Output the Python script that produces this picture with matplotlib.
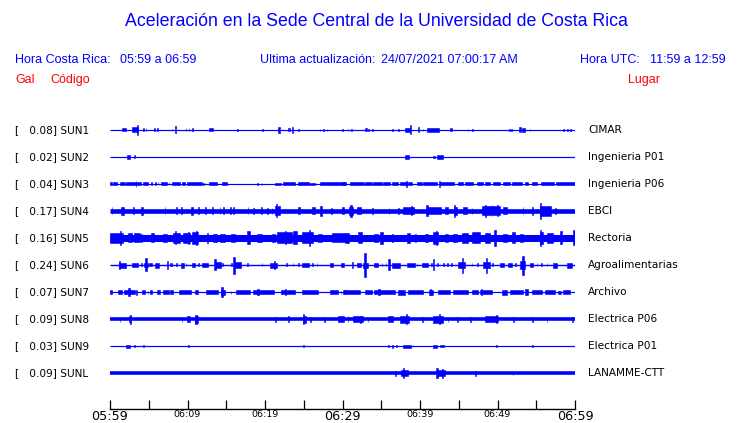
import matplotlib
matplotlib.use("Agg")
import matplotlib.pyplot as plt

# estaciones, valor maximo (Gal) y lugar
codes = ["SUN1", "SUN2", "SUN3", "SUN4", "SUN5", "SUN6", "SUN7", "SUN8", "SUN9", "SUNL"]
peak_gal = [0.08, 0.02, 0.04, 0.17, 0.16, 0.24, 0.07, 0.09, 0.03, 0.09]
places = ["CIMAR", "Ingenieria P01", "Ingenieria P06", "EBCI", "Rectoria",
          "Agroalimentarias", "Archivo", "Electrica P06", "Electrica P01", "LANAMME-CTT"]

# nivel de ruido de fondo de cada traza (media amplitud)
noise = [0.6, 0.6, 0.6, 2.3, 3.5, 0.7, 0.6, 1.8, 0.6, 1.8]

ev_sun1 = [(1.8, 1.5, 0.4), (3.2, 2.5, 0.8), (3.55, 5, 0.15), (4.3, 1.5, 0.1), (4.65, 1.5, 0.1),
           (5.7, 1.5, 0.1), (6.1, 1.5, 0.1), (8.0, 1, 0.1), (8.5, 3.5, 0.15), (9.8, 1.5, 0.1),
           (10.2, 1.5, 0.1), (10.6, 1.5, 0.1), (13.0, 1.5, 0.5), (16.5, 1, 0.1), (19.7, 0.8, 0.1),
           (21.8, 3, 0.15), (23.1, 1.5, 0.3), (23.5, 3, 0.15), (24.3, 1.2, 0.1), (27.1, 1, 0.1),
           (27.5, 1, 0.1), (28.0, 1.2, 0.1), (30.0, 1.2, 0.1), (30.7, 1.2, 0.1), (31.2, 1.2, 0.1),
           (33.0, 1.5, 0.2), (33.4, 1.2, 0.1), (33.9, 1.2, 0.1), (36.5, 0.8, 0.1), (37.2, 0.8, 0.1),
           (38.4, 2, 0.6), (38.8, 4.5, 0.15), (39.8, 2.5, 0.1), (40.4, 1.2, 0.1), (41.7, 2, 1.5),
           (44.0, 1.5, 0.2), (46.2, 0.8, 0.1), (46.8, 1.2, 0.1), (51.5, 1.2, 0.1), (51.8, 1.2, 0.1),
           (52.9, 2.5, 0.15), (53.4, 2, 0.4), (54.2, 1.2, 0.1), (58.5, 1, 0.1), (59.0, 1, 0.1),
           (59.4, 1.2, 0.1)]
ev_sun2 = [(2.4, 2, 0.3), (3.2, 1.5, 0.1), (38.3, 2, 0.5), (41.8, 1.2, 0.15), (42.6, 2, 0.8)]
ev_sun3 = [(0.1, 1.5, 0.3), (0.6, 1.5, 0.5), (1.6, 1.5, 0.6), (3.0, 1.5, 1.9), (3.35, 3, 0.1),
           (4.6, 1.5, 0.6), (5.4, 1.5, 0.1), (5.9, 1.5, 0.1), (6.2, 1.5, 0.1), (7.0, 1.5, 0.8),
           (7.6, 1.5, 0.1), (8.5, 1.5, 1.0), (9.5, 1.5, 0.4), (10.9, 1.5, 1.9), (12.1, 1.2, 0.1),
           (13.3, 1.5, 1.0), (14.8, 1.5, 0.6), (19.0, 1, 0.1), (19.6, 1.2, 0.1), (21.7, 1.2, 0.8),
           (23.1, 1.5, 1.5), (25.0, 1.5, 1.4), (26.1, 1.2, 0.6), (28.7, 1.5, 3.2), (30.2, 1.5, 0.5),
           (31.9, 1.5, 1.8), (33.4, 1.5, 0.9), (34.5, 1.5, 1.2), (35.7, 1.5, 0.9), (36.8, 1.5, 0.8),
           (37.9, 1.5, 0.9), (38.3, 3, 0.1), (38.7, 1.5, 0.5), (39.9, 1.5, 0.6), (41.3, 1.5, 1.8),
           (42.5, 3, 0.15), (43.5, 1.5, 1.9), (45.2, 1.5, 0.6), (46.3, 1.5, 1.0), (47.7, 1.5, 0.8),
           (48.7, 1.5, 0.6), (49.9, 1.5, 0.9), (51.2, 1.5, 0.9), (52.5, 1.5, 1.3), (53.7, 1.5, 0.4),
           (54.8, 1.5, 0.6), (56.4, 1.5, 1.7), (58.8, 1.5, 2.4)]
ev_sun4 = [(0.26, 3.5, 0.1), (1.6, 4, 0.4), (3.0, 3.5, 0.1), (4.1, 4, 0.2), (7.1, 3.5, 0.1),
           (8.6, 3.5, 0.1), (9.2, 3.5, 0.1), (10.6, 4, 0.2), (11.4, 3.5, 0.1), (12.3, 3.5, 0.1),
           (13.2, 3.5, 0.1), (14.2, 3.5, 0.1), (14.6, 3.5, 0.1), (15.5, 3.5, 0.1), (15.9, 3.5, 0.1),
           (17.8, 3.5, 0.1), (18.5, 3.2, 0.1), (19.5, 3.5, 0.1), (20.3, 3.2, 0.1), (20.9, 3.2, 0.1),
           (21.6, 4.5, 0.6), (21.5, 6.5, 0.15), (24.4, 3.5, 0.3), (26.3, 3.5, 0.4), (27.2, 5, 0.3),
           (28.6, 3.2, 0.1), (30.1, 3.5, 0.3), (31.1, 4, 0.5), (31.1, 6, 0.15), (32.1, 3.5, 0.5),
           (33.9, 3.2, 0.1), (36.0, 3.2, 0.1), (37.2, 3.2, 0.1), (38.5, 3.5, 1.4), (38.9, 4.5, 0.1),
           (41.8, 3.5, 1.7), (40.9, 5.5, 0.15), (43.4, 3.5, 0.4), (44.6, 4, 0.3), (44.5, 6, 0.15),
           (45.8, 3.5, 0.5), (46.7, 3.2, 0.1), (49.2, 4.5, 2.3), (48.5, 6, 0.1), (49.3, 5.5, 0.1),
           (50.0, 5.5, 0.1), (51.0, 3.5, 0.5), (53.3, 3.5, 0.1), (54.5, 4, 0.1), (56.2, 5, 1.4),
           (55.6, 8, 0.15), (57.5, 3.2, 0.1)]
ev_sun5 = [(0.8, 5, 1.7), (1.4, 7, 0.15), (2.6, 4.5, 0.5), (3.5, 4.5, 0.8), (4.1, 4, 0.1),
           (5.5, 4.5, 0.3), (7.1, 4, 0.6), (8.6, 5, 0.9), (8.5, 6.5, 0.15), (9.9, 5, 0.9),
           (10.1, 6, 0.15), (11.0, 6, 0.8), (11.2, 7, 0.15), (12.6, 5, 0.2), (13.6, 4, 0.5),
           (14.5, 4, 0.6), (15.9, 4, 0.5), (17.9, 6.5, 0.4), (19.3, 4, 0.6), (21.1, 4, 0.4),
           (22.5, 5.5, 1.9), (22.6, 6.5, 0.15), (23.9, 6.5, 0.5), (25.5, 5.5, 1.4), (25.7, 8, 0.15),
           (27.1, 4, 0.5), (29.5, 4.5, 1.7), (30.6, 5, 0.6), (32.3, 5.5, 0.5), (34.3, 4, 0.6),
           (35.0, 6, 0.4), (36.4, 4, 0.15), (38.5, 5, 0.4), (39.4, 4, 0.1), (40.8, 4, 0.4),
           (42.0, 6, 0.6), (42.1, 7, 0.15), (43.4, 4, 0.3), (44.5, 4, 0.5), (45.8, 5, 0.8),
           (47.2, 5.5, 1.0), (48.7, 5, 0.6), (49.7, 8, 0.2), (51.0, 4, 0.5), (52.1, 5.5, 0.4),
           (53.1, 4, 0.4), (55.7, 6, 0.4), (55.6, 8, 0.15), (56.8, 5, 0.8), (58.2, 6.5, 0.3),
           (59.9, 7.5, 0.2)]
ev_sun6 = [(1.6, 2.5, 0.9), (1.2, 4, 0.15), (3.2, 2, 0.8), (4.1, 1.5, 0.1), (4.6, 2, 0.5),
           (4.65, 6.5, 0.15), (5.2, 1.5, 0.4), (6.1, 2.5, 0.5), (7.4, 4, 0.2), (7.9, 1.5, 0.3),
           (8.6, 1.5, 0.1), (9.4, 2.5, 0.4), (9.8, 1.5, 0.1), (10.8, 2, 0.4), (11.4, 1.5, 0.1),
           (12.3, 2, 0.8), (13.9, 3, 0.8), (13.55, 5.5, 0.15), (14.5, 1.5, 0.1), (15.7, 1.5, 0.1),
           (16.5, 3, 0.9), (16.0, 8.5, 0.15), (17.7, 1.5, 0.1), (19.6, 1.5, 0.1), (21.1, 2.5, 0.9),
           (21.2, 4, 0.15), (22.8, 1.5, 0.1), (23.6, 1.5, 0.1), (24.3, 1.5, 0.1), (25.2, 2, 0.9),
           (26.1, 1.5, 0.1), (26.7, 1.5, 0.1), (28.6, 2, 0.3), (30.0, 2, 0.5), (31.3, 3, 0.2),
           (32.1, 2, 0.5), (33.0, 2.5, 0.6), (32.9, 12, 0.15), (34.3, 2, 0.6), (35.1, 1.5, 0.1),
           (35.6, 1.5, 0.1), (36.0, 5.5, 0.15), (36.9, 2.5, 1.0), (38.8, 2, 1.0), (39.6, 1.5, 0.1),
           (40.6, 2, 0.8), (41.5, 1.5, 0.1), (41.7, 5.5, 0.15), (42.3, 1.5, 0.1), (43.0, 1.5, 0.1),
           (43.5, 1.5, 0.1), (44.1, 1.5, 0.1), (45.3, 3, 0.9), (45.5, 7.5, 0.15), (46.7, 1.5, 0.1),
           (47.4, 1.5, 0.1), (48.6, 3, 0.9), (48.6, 7.5, 0.15), (49.4, 1.5, 0.1), (50.6, 2, 0.6),
           (51.6, 2, 0.5), (52.3, 1.5, 0.1), (53.2, 4, 0.6), (53.3, 9.5, 0.15), (54.4, 2, 0.4),
           (55.1, 1.5, 0.1), (55.7, 1.5, 0.1), (56.4, 1.5, 0.1), (57.4, 2.5, 0.5), (59.3, 2.5, 0.6)]
ev_sun7 = [(0.1, 2, 0.3), (1.3, 2, 0.5), (2.5, 2, 1.4), (2.45, 4, 0.15), (3.4, 2.5, 0.2),
           (4.3, 2, 0.4), (4.9, 1.5, 0.1), (5.3, 2, 0.3), (6.3, 2, 0.4), (7.2, 2, 0.8),
           (7.9, 2, 0.4), (9.7, 2, 1.5), (11.2, 2, 0.4), (13.2, 2, 1.5), (14.6, 2.5, 0.5),
           (14.45, 5, 0.15), (15.6, 1.5, 0.1), (17.2, 2, 1.8), (19.8, 2, 2.6), (19.1, 3, 0.15),
           (23.0, 2, 1.8), (22.6, 3, 0.15), (25.8, 2, 2.1), (28.9, 2, 1.0), (29.8, 1.5, 0.1),
           (30.2, 2, 0.3), (31.2, 2, 2.1), (33.4, 2, 0.9), (35.4, 2, 2.8), (34.7, 3, 0.15),
           (37.6, 2.5, 0.9), (39.4, 2, 1.9), (41.4, 2.5, 0.6), (41.4, 3, 0.15), (43.1, 2, 1.5),
           (45.2, 2, 1.9), (47.1, 2, 0.8), (48.5, 2, 1.5), (47.9, 3, 0.15), (50.9, 2.5, 0.6),
           (52.5, 2, 1.7), (53.7, 3, 0.4), (55.1, 2, 1.3), (56.8, 2, 1.3), (58.0, 1.5, 0.5),
           (58.9, 2, 0.9)]
ev_sun8 = [(1.3, 2.5, 0.1), (2.6, 3, 0.3), (2.6, 4.5, 0.15), (9.3, 2.5, 0.1), (10.1, 3, 0.4),
           (11.2, 3.5, 0.4), (11.1, 4.5, 0.15), (21.4, 2.5, 0.1), (23.0, 3, 0.1), (25.1, 3.5, 0.4),
           (25.0, 5, 0.15), (25.9, 2.5, 0.1), (27.7, 2.5, 0.1), (29.8, 3, 0.8), (30.7, 3, 0.1),
           (32.0, 3, 1.3), (32.3, 3.5, 0.1), (33.3, 2.5, 0.1), (36.2, 3, 0.6), (38.0, 3.5, 1.2),
           (38.3, 5, 0.15), (40.3, 2.5, 0.1), (42.3, 3.5, 1.3), (42.5, 5, 0.15), (43.6, 2.5, 0.1),
           (44.8, 2.5, 0.1), (46.5, 2.5, 0.1), (49.2, 3, 1.7), (49.9, 4, 0.15), (52.1, 2.5, 0.1),
           (54.5, 2.5, 0.1), (56.4, 2.5, 0.1), (59.7, 2.5, 0.1)]
ev_sun9 = [(2.3, 1.5, 0.5), (3.2, 1.2, 0.1), (4.3, 1, 0.1), (10.1, 1, 0.1), (25.0, 1, 0.1),
           (35.9, 1, 0.1), (36.5, 1.5, 0.1), (37.0, 1, 0.1), (38.3, 1.5, 1.0), (39.1, 1, 0.1),
           (41.9, 1.5, 0.5), (42.8, 1, 0.5), (49.9, 1, 0.1), (54.5, 1, 0.1)]
ev_sunl = [(36.8, 2.5, 0.1), (38.0, 3, 0.9), (37.9, 5, 0.15), (42.7, 3, 1.0), (42.2, 5, 0.15),
           (42.9, 4.5, 0.15), (47.2, 2.5, 0.1), (52.0, 2, 0.1)]
events = [ev_sun1, ev_sun2, ev_sun3, ev_sun4, ev_sun5, ev_sun6, ev_sun7, ev_sun8, ev_sun9, ev_sunl]

tick_min = list(range(0, 61, 5))
tick_lbl = ["05:59", "", "06:09", "", "06:19", "", "06:29", "", "06:39", "", "06:49", "", "06:59"]
big_lbl = ["05:59", "06:29", "06:59"]

BLUE = "#0000ff"
RED = "#ff0000"
W, H = 740, 423
SLOT = 27.0  # pixeles entre trazas

fig = plt.figure(figsize=(W / 100, H / 100), dpi=100)
fig.patch.set_facecolor("white")


def fx(px):
    return px / W


def fy(py):
    return 1 - py / H


helv = "Liberation Sans"
fig.text(fx(376), fy(22), "Aceleración en la Sede Central de la Universidad de Costa Rica",
         color=BLUE, fontsize=12.8, family=helv, ha="center", va="center")
for x, s in [(15, "Hora Costa Rica:"), (120, "05:59 a 06:59"),
             (260, "Ultima actualización:"), (381, "24/07/2021 07:00:17 AM"),
             (580, "Hora UTC:"), (650, "11:59 a 12:59")]:
    fig.text(fx(x), fy(60), s, color=BLUE, fontsize=9, family=helv, va="center")
for x, s in [(15, "Gal"), (50, "Código"), (628, "Lugar")]:
    fig.text(fx(x), fy(80), s, color=RED, fontsize=9, family=helv, va="center")

# eje de las trazas: x en minutos, y en "ranuras"
top_px, bot_px = 116, 409
ax = fig.add_axes([fx(110), fy(bot_px), fx(575) - fx(110), (bot_px - top_px) / H])
ax.set_xlim(0, 60)
ax.set_ylim(-(bot_px - 130) / SLOT, (130 - top_px) / SLOT)

for i, code in enumerate(codes):
    yc = -i
    ax.hlines(yc, 0, 60, color=BLUE, lw=2 * noise[i] * 0.72)
    t = [e[0] for e in events[i]]
    a = [e[1] / SLOT for e in events[i]]
    d = [max(e[2], 0.1) for e in events[i]]
    ax.bar(t, [2 * v for v in a], bottom=[yc - v for v in a], width=d,
           color=BLUE, edgecolor=BLUE, linewidth=0.4, align="center")
    fig.text(fx(15), fy(130 + SLOT * i), f"[   {peak_gal[i]:.2f}] {code}",
             fontsize=7.6, color="black", va="center")
    fig.text(fx(588), fy(130 + SLOT * i), places[i], fontsize=7.6, color="black", va="center")

for s in ["top", "left", "right"]:
    ax.spines[s].set_visible(False)
ax.spines["bottom"].set_linewidth(1.0)
ax.set_yticks([])
ax.set_xticks(tick_min)
ax.set_xticklabels(tick_lbl)
ax.tick_params(axis="x", direction="in", length=6.5, width=0.9, pad=0.8, labelsize=6.8)
for lab in ax.get_xticklabels():
    if lab.get_text() in big_lbl:
        lab.set_fontsize(9.2)
ax.set_facecolor("none")

fig.savefig("out.png", dpi=100, facecolor="white")
